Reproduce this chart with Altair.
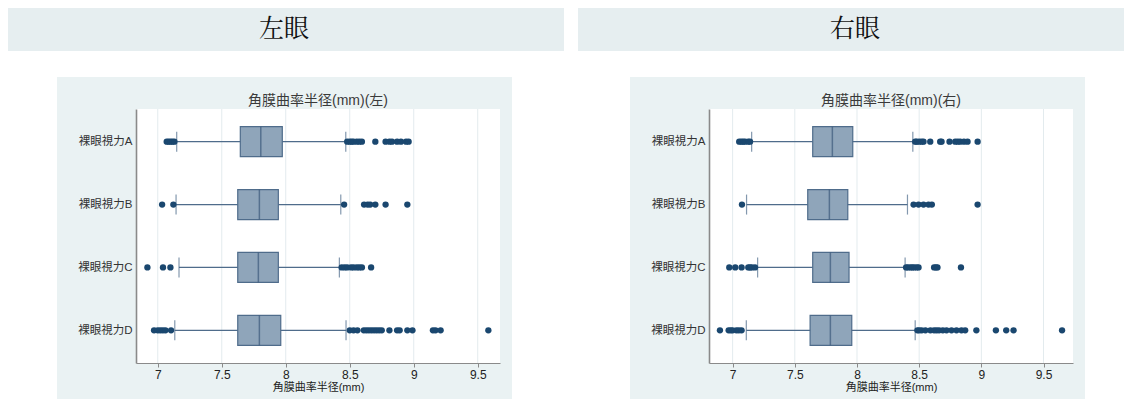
import altair as alt
import pandas as pd

categories = ["裸眼視力A", "裸眼視力B", "裸眼視力C", "裸眼視力D"]
tick_values = [7, 7.5, 8, 8.5, 9, 9.5]
axis_title = "角膜曲率半径(mm)"

# 左眼
left_header = "左眼"
left_title = "角膜曲率半径(mm)(左)"
left_domain = [6.83, 9.674]
left_low = [7.148, 7.143, 7.166, 7.133]
left_q1 = [7.645, 7.625, 7.625, 7.625]
left_median = [7.805, 7.794, 7.786, 7.794]
left_q3 = [7.973, 7.942, 7.942, 7.961]
left_high = [8.469, 8.430, 8.419, 8.471]
left_out_A = [7.07, 7.085, 7.10, 7.115, 7.13, 8.48, 8.50, 8.515, 8.53, 8.555, 8.575,
              8.595, 8.70, 8.78, 8.81, 8.83, 8.87, 8.90, 8.94, 8.96]
left_out_B = [7.034, 7.122, 8.456, 8.612, 8.64, 8.66, 8.70, 8.78, 8.95]
left_out_C = [6.919, 7.041, 7.099, 8.437, 8.46, 8.48, 8.51, 8.53, 8.555, 8.575, 8.595, 8.667]
left_out_D = [6.971, 7.00, 7.02, 7.04, 7.06, 7.104, 8.50, 8.53, 8.56, 8.61, 8.63, 8.65,
              8.67, 8.69, 8.71, 8.73, 8.75, 8.81, 8.87, 8.89, 8.95, 8.99, 9.15, 9.17,
              9.21, 9.583]

# 右眼
right_header = "右眼"
right_title = "角膜曲率半径(mm)(右)"
right_domain = [6.81, 9.737]
right_low = [7.153, 7.112, 7.201, 7.110]
right_q1 = [7.644, 7.604, 7.644, 7.623]
right_median = [7.802, 7.778, 7.786, 7.786]
right_q3 = [7.966, 7.926, 7.936, 7.958]
right_high = [8.449, 8.406, 8.387, 8.468]
right_out_A = [7.053, 7.07, 7.085, 7.10, 7.125, 7.14, 8.468, 8.48, 8.50, 8.52, 8.535,
               8.589, 8.669, 8.68, 8.744, 8.79, 8.81, 8.83, 8.86, 8.889, 8.97]
right_out_B = [7.075, 8.455, 8.495, 8.535, 8.575, 8.602, 8.970]
right_out_C = [6.973, 7.021, 7.072, 7.126, 7.14, 7.155, 7.18, 8.395, 8.41, 8.43, 8.445,
               8.46, 8.48, 8.495, 8.62, 8.635, 8.647, 8.836]
right_out_D = [6.898, 6.968, 6.985, 7.0, 7.03, 7.05, 7.072, 8.486, 8.50, 8.52, 8.55, 8.59,
               8.62, 8.64, 8.66, 8.69, 8.72, 8.76, 8.80, 8.84, 8.87, 8.96, 9.117, 9.20,
               9.259, 9.649]

W, H = 364, 254
HEADER_BG = "#e6eef0"
PANEL_BG = "#eaf2f3"
GRID = "#e3ebee"
BOX_FILL = "#8fa5ba"
BOX_STROKE = "#4f6c8b"
MEDIAN = "#3c5a7c"
DOT = "#1a476f"
AXIS_GRAY = "#8a8a8a"
FONT = "Liberation Sans, Noto Sans CJK JP, sans-serif"


def panel(header, title, low, q1, med, q3, high, outliers, domain, hx1, hx2, hcx):
    box = pd.DataFrame({"category": categories, "low": low, "q1": q1,
                        "median": med, "q3": q3, "high": high})
    out = pd.DataFrame([(c, v) for c, vals in zip(categories, outliers) for v in vals],
                       columns=["category", "value"])
    hdr = pd.DataFrame({"label": [header]})
    ttl = pd.DataFrame({"label": [title]})
    grid = pd.DataFrame({"tick": tick_values})

    x_scale = alt.Scale(domain=domain, nice=False, zero=False)
    x_axis = alt.Axis(values=tick_values, format="~g", title=axis_title, grid=False,
                      zindex=1, labelFontSize=12, labelColor="#222", labelFont=FONT,
                      titleFont=FONT, titleFontSize=11, titleFontWeight="normal",
                      titleColor="#222", titlePadding=1, labelPadding=2, tickSize=4,
                      tickColor=AXIS_GRAY, domainColor=AXIS_GRAY, domainWidth=1.2)
    y_enc = alt.Y("category:N",
                  scale=alt.Scale(type="point", domain=categories, padding=0.52),
                  axis=alt.Axis(title=None, ticks=False, grid=False, zindex=1,
                                labelFontSize=11.5, labelColor="#333", labelFont=FONT,
                                labelPadding=4, domainColor=AXIS_GRAY, domainWidth=1.6))

    header_bg = alt.Chart(hdr).mark_rect(color=HEADER_BG).encode(
        x=alt.value(hx1), x2=alt.value(hx2), y=alt.value(-101), y2=alt.value(-58))
    header_txt = alt.Chart(hdr).mark_text(
        fontSize=25, color="#111", font="Noto Serif CJK JP, Noto Sans CJK JP, serif",
        baseline="middle", align="center").encode(
        x=alt.value(hcx), y=alt.value(-80), text="label:N")
    panel_bg = alt.Chart(hdr).mark_rect(color=PANEL_BG).encode(
        x=alt.value(-79), x2=alt.value(376), y=alt.value(-32), y2=alt.value(290))
    plot_bg = alt.Chart(hdr).mark_rect(color="white").encode(
        x=alt.value(0), x2=alt.value(W), y=alt.value(0), y2=alt.value(H))
    title_txt = alt.Chart(ttl).mark_text(
        fontSize=14, color="#3a3a3a", font=FONT, baseline="middle", align="center").encode(
        x=alt.value(W / 2), y=alt.value(-8), text="label:N")
    grid_rules = alt.Chart(grid).mark_rule(color=GRID, strokeWidth=1).encode(
        x=alt.X("tick:Q", scale=x_scale, axis=x_axis))

    base = alt.Chart(box)
    whisker = base.mark_rule(color=BOX_STROKE, strokeWidth=1.2).encode(
        x=alt.X("low:Q", scale=x_scale, axis=x_axis), x2="high:Q", y=y_enc)
    cap_lo = base.mark_tick(color=BOX_STROKE, size=20, thickness=1.2).encode(
        x=alt.X("low:Q", scale=x_scale, axis=x_axis), y=y_enc)
    cap_hi = base.mark_tick(color=BOX_STROKE, size=20, thickness=1.2).encode(
        x=alt.X("high:Q", scale=x_scale, axis=x_axis), y=y_enc)
    boxes = base.mark_bar(size=30, fill=BOX_FILL, stroke=BOX_STROKE, strokeWidth=1.2).encode(
        x=alt.X("q1:Q", scale=x_scale, axis=x_axis), x2="q3:Q", y=y_enc)
    medians = base.mark_tick(color=MEDIAN, size=30, thickness=1.5).encode(
        x=alt.X("median:Q", scale=x_scale, axis=x_axis), y=y_enc)
    dots = alt.Chart(out).mark_circle(size=40, color=DOT, opacity=1).encode(
        x=alt.X("value:Q", scale=x_scale, axis=x_axis), y=y_enc)

    return alt.layer(header_bg, header_txt, panel_bg, plot_bg, title_txt, grid_rules,
                     whisker, cap_lo, cap_hi, boxes, medians, dots).properties(
        width=W, height=H)


left = panel(left_header, left_title, left_low, left_q1, left_median, left_q3, left_high,
             [left_out_A, left_out_B, left_out_C, left_out_D], left_domain,
             -128, 428, 148)
right = panel(right_header, right_title, right_low, right_q1, right_median, right_q3,
              right_high, [right_out_A, right_out_B, right_out_C, right_out_D],
              right_domain, -131, 415, 146)

chart = alt.hconcat(left, right, spacing=14).resolve_scale(
    x="independent").configure_view(stroke=None).properties(
    padding=0, background="white")

chart.save("out.html", embed_options={"renderer": "svg", "actions": False})
